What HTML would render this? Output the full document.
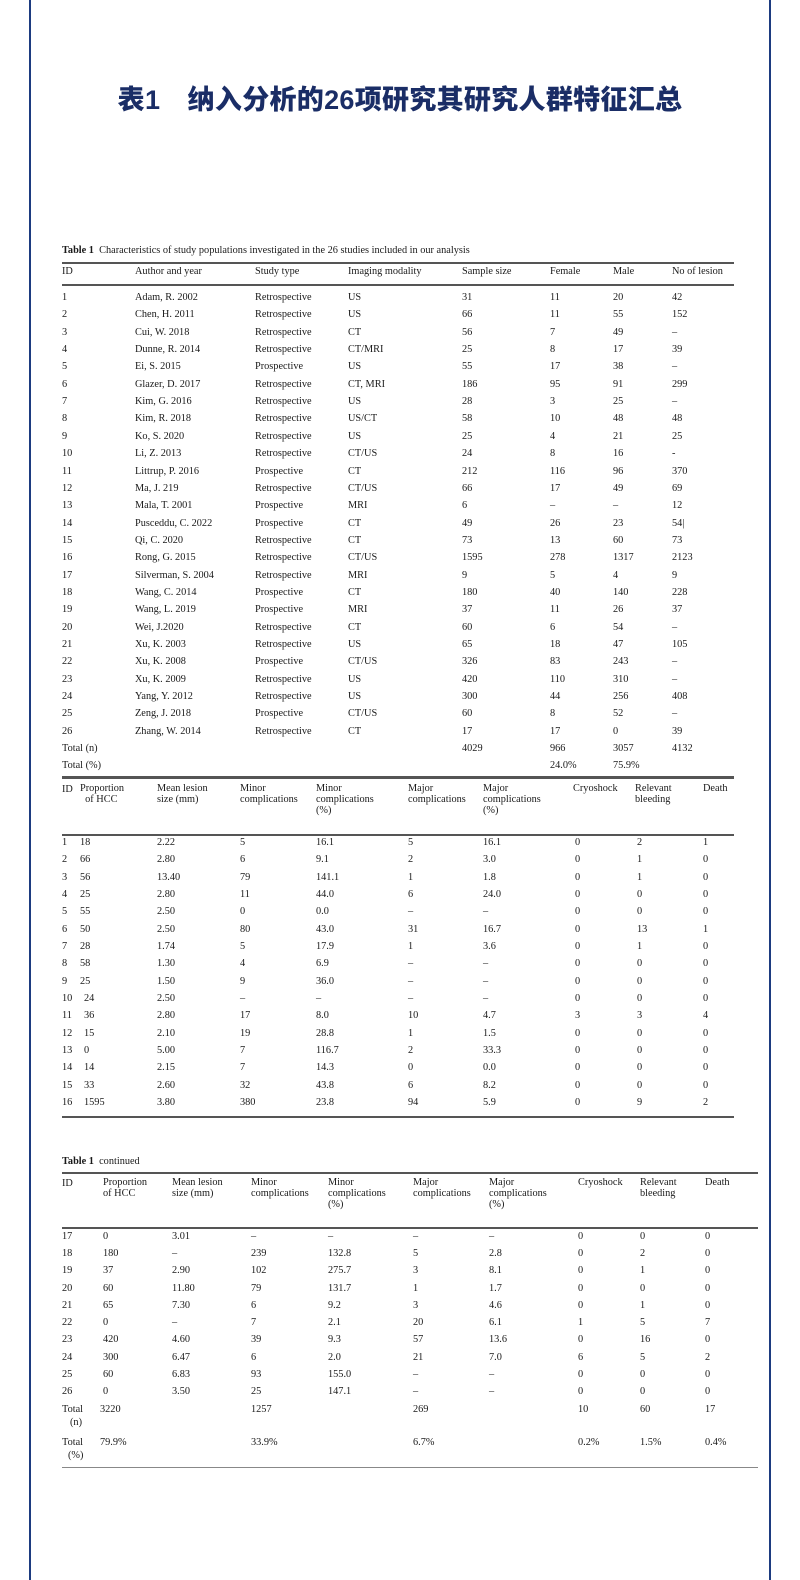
<!DOCTYPE html>
<html><head><meta charset="utf-8"><style>
*{margin:0;padding:0}
body{width:800px;height:1580px;background:#fff;position:relative;overflow:hidden;font-family:"Liberation Serif","Noto Serif CJK SC",serif;font-size:10.3px;color:#1a1a1a}
.bl{position:absolute;top:0;width:2px;height:1580px;background:#1d3b80}
.t{position:absolute;left:0;width:800px;top:78px;text-align:center;font-family:"Liberation Sans","Noto Sans CJK SC",sans-serif;font-weight:900;font-size:27px;color:#1a2d66;letter-spacing:0.3px}
.r{position:absolute;left:0;width:800px;height:14px;line-height:14px}
.r span{position:absolute;white-space:nowrap}
.h{position:absolute;background:#555}
.a1{left:62px}.a2{left:135px}.a3{left:255px}.a4{left:348px}.a5{left:462px}.a6{left:550px}.a7{left:613px}.a8{left:672px}
.b1{left:62px}.b2{left:80px}.b3{left:157px}.b4{left:240px}.b5{left:316px}.b6{left:408px}.b7{left:483px}.b8{left:575px}.b9{left:637px}.b10{left:703px}
.c1{left:62px}.c2{left:103px}.c3{left:172px}.c4{left:251px}.c5{left:328px}.c6{left:413px}.c7{left:489px}.c8{left:578px}.c9{left:640px}.c10{left:705px}
.hd{line-height:11px;position:absolute}
</style></head><body>
<div class="bl" style="left:29px"></div><div class="bl" style="left:769px"></div>
<div class="t">表1　纳入分析的26项研究其研究人群特征汇总</div>

<div class="r" style="top:244px"><span style="left:62px"><b>Table 1</b>&nbsp; Characteristics of study populations investigated in the 26 studies included in our analysis</span></div>
<div class="h" style="left:62px;width:672px;top:262px;height:1.5px"></div>
<div class="r" style="top:265px"><span class="a1">ID</span><span class="a2">Author and year</span><span class="a3">Study type</span><span class="a4">Imaging modality</span><span class="a5">Sample size</span><span class="a6">Female</span><span class="a7">Male</span><span class="a8">No of lesion</span></div>
<div class="h" style="left:62px;width:672px;top:284px;height:1.5px"></div>

<div class="r" style="top:291px"><span class="a1">1</span><span class="a2">Adam, R. 2002</span><span class="a3">Retrospective</span><span class="a4">US</span><span class="a5">31</span><span class="a6">11</span><span class="a7">20</span><span class="a8">42</span></div>
<div class="r" style="top:308px"><span class="a1">2</span><span class="a2">Chen, H. 2011</span><span class="a3">Retrospective</span><span class="a4">US</span><span class="a5">66</span><span class="a6">11</span><span class="a7">55</span><span class="a8">152</span></div>
<div class="r" style="top:326px"><span class="a1">3</span><span class="a2">Cui, W. 2018</span><span class="a3">Retrospective</span><span class="a4">CT</span><span class="a5">56</span><span class="a6">7</span><span class="a7">49</span><span class="a8">–</span></div>
<div class="r" style="top:343px"><span class="a1">4</span><span class="a2">Dunne, R. 2014</span><span class="a3">Retrospective</span><span class="a4">CT/MRI</span><span class="a5">25</span><span class="a6">8</span><span class="a7">17</span><span class="a8">39</span></div>
<div class="r" style="top:360px"><span class="a1">5</span><span class="a2">Ei, S. 2015</span><span class="a3">Prospective</span><span class="a4">US</span><span class="a5">55</span><span class="a6">17</span><span class="a7">38</span><span class="a8">–</span></div>
<div class="r" style="top:378px"><span class="a1">6</span><span class="a2">Glazer, D. 2017</span><span class="a3">Retrospective</span><span class="a4">CT, MRI</span><span class="a5">186</span><span class="a6">95</span><span class="a7">91</span><span class="a8">299</span></div>
<div class="r" style="top:395px"><span class="a1">7</span><span class="a2">Kim, G. 2016</span><span class="a3">Retrospective</span><span class="a4">US</span><span class="a5">28</span><span class="a6">3</span><span class="a7">25</span><span class="a8">–</span></div>
<div class="r" style="top:412px"><span class="a1">8</span><span class="a2">Kim, R. 2018</span><span class="a3">Retrospective</span><span class="a4">US/CT</span><span class="a5">58</span><span class="a6">10</span><span class="a7">48</span><span class="a8">48</span></div>
<div class="r" style="top:430px"><span class="a1">9</span><span class="a2">Ko, S. 2020</span><span class="a3">Retrospective</span><span class="a4">US</span><span class="a5">25</span><span class="a6">4</span><span class="a7">21</span><span class="a8">25</span></div>
<div class="r" style="top:447px"><span class="a1">10</span><span class="a2">Li, Z. 2013</span><span class="a3">Retrospective</span><span class="a4">CT/US</span><span class="a5">24</span><span class="a6">8</span><span class="a7">16</span><span class="a8">-</span></div>
<div class="r" style="top:465px"><span class="a1">11</span><span class="a2">Littrup, P. 2016</span><span class="a3">Prospective</span><span class="a4">CT</span><span class="a5">212</span><span class="a6">116</span><span class="a7">96</span><span class="a8">370</span></div>
<div class="r" style="top:482px"><span class="a1">12</span><span class="a2">Ma, J. 219</span><span class="a3">Retrospective</span><span class="a4">CT/US</span><span class="a5">66</span><span class="a6">17</span><span class="a7">49</span><span class="a8">69</span></div>
<div class="r" style="top:499px"><span class="a1">13</span><span class="a2">Mala, T. 2001</span><span class="a3">Prospective</span><span class="a4">MRI</span><span class="a5">6</span><span class="a6">–</span><span class="a7">–</span><span class="a8">12</span></div>
<div class="r" style="top:517px"><span class="a1">14</span><span class="a2">Pusceddu, C. 2022</span><span class="a3">Prospective</span><span class="a4">CT</span><span class="a5">49</span><span class="a6">26</span><span class="a7">23</span><span class="a8">54|</span></div>
<div class="r" style="top:534px"><span class="a1">15</span><span class="a2">Qi, C. 2020</span><span class="a3">Retrospective</span><span class="a4">CT</span><span class="a5">73</span><span class="a6">13</span><span class="a7">60</span><span class="a8">73</span></div>
<div class="r" style="top:551px"><span class="a1">16</span><span class="a2">Rong, G. 2015</span><span class="a3">Retrospective</span><span class="a4">CT/US</span><span class="a5">1595</span><span class="a6">278</span><span class="a7">1317</span><span class="a8">2123</span></div>
<div class="r" style="top:569px"><span class="a1">17</span><span class="a2">Silverman, S. 2004</span><span class="a3">Retrospective</span><span class="a4">MRI</span><span class="a5">9</span><span class="a6">5</span><span class="a7">4</span><span class="a8">9</span></div>
<div class="r" style="top:586px"><span class="a1">18</span><span class="a2">Wang, C. 2014</span><span class="a3">Prospective</span><span class="a4">CT</span><span class="a5">180</span><span class="a6">40</span><span class="a7">140</span><span class="a8">228</span></div>
<div class="r" style="top:603px"><span class="a1">19</span><span class="a2">Wang, L. 2019</span><span class="a3">Prospective</span><span class="a4">MRI</span><span class="a5">37</span><span class="a6">11</span><span class="a7">26</span><span class="a8">37</span></div>
<div class="r" style="top:621px"><span class="a1">20</span><span class="a2">Wei, J.2020</span><span class="a3">Retrospective</span><span class="a4">CT</span><span class="a5">60</span><span class="a6">6</span><span class="a7">54</span><span class="a8">–</span></div>
<div class="r" style="top:638px"><span class="a1">21</span><span class="a2">Xu, K. 2003</span><span class="a3">Retrospective</span><span class="a4">US</span><span class="a5">65</span><span class="a6">18</span><span class="a7">47</span><span class="a8">105</span></div>
<div class="r" style="top:655px"><span class="a1">22</span><span class="a2">Xu, K. 2008</span><span class="a3">Prospective</span><span class="a4">CT/US</span><span class="a5">326</span><span class="a6">83</span><span class="a7">243</span><span class="a8">–</span></div>
<div class="r" style="top:673px"><span class="a1">23</span><span class="a2">Xu, K. 2009</span><span class="a3">Retrospective</span><span class="a4">US</span><span class="a5">420</span><span class="a6">110</span><span class="a7">310</span><span class="a8">–</span></div>
<div class="r" style="top:690px"><span class="a1">24</span><span class="a2">Yang, Y. 2012</span><span class="a3">Retrospective</span><span class="a4">US</span><span class="a5">300</span><span class="a6">44</span><span class="a7">256</span><span class="a8">408</span></div>
<div class="r" style="top:707px"><span class="a1">25</span><span class="a2">Zeng, J. 2018</span><span class="a3">Prospective</span><span class="a4">CT/US</span><span class="a5">60</span><span class="a6">8</span><span class="a7">52</span><span class="a8">–</span></div>
<div class="r" style="top:725px"><span class="a1">26</span><span class="a2">Zhang, W. 2014</span><span class="a3">Retrospective</span><span class="a4">CT</span><span class="a5">17</span><span class="a6">17</span><span class="a7">0</span><span class="a8">39</span></div>
<div class="r" style="top:742px"><span class="a1">Total (n)</span><span class="a5">4029</span><span class="a6">966</span><span class="a7">3057</span><span class="a8">4132</span></div>
<div class="r" style="top:759px"><span class="a1">Total (%)</span><span class="a6">24.0%</span><span class="a7">75.9%</span></div>
<div class="h" style="left:62px;width:672px;top:776px;height:2.5px"></div>

<div class="r" style="top:783px"><span class="b1">ID</span></div>
<div class="hd" style="left:80px;top:783px">Proportion<br>&nbsp; of HCC</div>
<div class="hd" style="left:157px;top:783px">Mean lesion<br>size (mm)</div>
<div class="hd" style="left:240px;top:783px">Minor<br>complications</div>
<div class="hd" style="left:316px;top:783px">Minor<br>complications<br>(%)</div>
<div class="hd" style="left:408px;top:783px">Major<br>complications</div>
<div class="hd" style="left:483px;top:783px">Major<br>complications<br>(%)</div>
<div class="hd" style="left:573px;top:783px">Cryoshock</div>
<div class="hd" style="left:635px;top:783px">Relevant<br>bleeding</div>
<div class="hd" style="left:703px;top:783px">Death</div>
<div class="h" style="left:62px;width:672px;top:834px;height:1.5px"></div>

<div class="r" style="top:836px"><span class="b1">1</span><span class="b2">18</span><span class="b3">2.22</span><span class="b4">5</span><span class="b5">16.1</span><span class="b6">5</span><span class="b7">16.1</span><span class="b8">0</span><span class="b9">2</span><span class="b10">1</span></div>
<div class="r" style="top:853px"><span class="b1">2</span><span class="b2">66</span><span class="b3">2.80</span><span class="b4">6</span><span class="b5">9.1</span><span class="b6">2</span><span class="b7">3.0</span><span class="b8">0</span><span class="b9">1</span><span class="b10">0</span></div>
<div class="r" style="top:871px"><span class="b1">3</span><span class="b2">56</span><span class="b3">13.40</span><span class="b4">79</span><span class="b5">141.1</span><span class="b6">1</span><span class="b7">1.8</span><span class="b8">0</span><span class="b9">1</span><span class="b10">0</span></div>
<div class="r" style="top:888px"><span class="b1">4</span><span class="b2">25</span><span class="b3">2.80</span><span class="b4">11</span><span class="b5">44.0</span><span class="b6">6</span><span class="b7">24.0</span><span class="b8">0</span><span class="b9">0</span><span class="b10">0</span></div>
<div class="r" style="top:905px"><span class="b1">5</span><span class="b2">55</span><span class="b3">2.50</span><span class="b4">0</span><span class="b5">0.0</span><span class="b6">–</span><span class="b7">–</span><span class="b8">0</span><span class="b9">0</span><span class="b10">0</span></div>
<div class="r" style="top:923px"><span class="b1">6</span><span class="b2">50</span><span class="b3">2.50</span><span class="b4">80</span><span class="b5">43.0</span><span class="b6">31</span><span class="b7">16.7</span><span class="b8">0</span><span class="b9">13</span><span class="b10">1</span></div>
<div class="r" style="top:940px"><span class="b1">7</span><span class="b2">28</span><span class="b3">1.74</span><span class="b4">5</span><span class="b5">17.9</span><span class="b6">1</span><span class="b7">3.6</span><span class="b8">0</span><span class="b9">1</span><span class="b10">0</span></div>
<div class="r" style="top:957px"><span class="b1">8</span><span class="b2">58</span><span class="b3">1.30</span><span class="b4">4</span><span class="b5">6.9</span><span class="b6">–</span><span class="b7">–</span><span class="b8">0</span><span class="b9">0</span><span class="b10">0</span></div>
<div class="r" style="top:975px"><span class="b1">9</span><span class="b2">25</span><span class="b3">1.50</span><span class="b4">9</span><span class="b5">36.0</span><span class="b6">–</span><span class="b7">–</span><span class="b8">0</span><span class="b9">0</span><span class="b10">0</span></div>
<div class="r" style="top:992px"><span class="b1">10</span><span class="b2" style="left:84px">24</span><span class="b3">2.50</span><span class="b4">–</span><span class="b5">–</span><span class="b6">–</span><span class="b7">–</span><span class="b8">0</span><span class="b9">0</span><span class="b10">0</span></div>
<div class="r" style="top:1009px"><span class="b1">11</span><span class="b2" style="left:84px">36</span><span class="b3">2.80</span><span class="b4">17</span><span class="b5">8.0</span><span class="b6">10</span><span class="b7">4.7</span><span class="b8">3</span><span class="b9">3</span><span class="b10">4</span></div>
<div class="r" style="top:1027px"><span class="b1">12</span><span class="b2" style="left:84px">15</span><span class="b3">2.10</span><span class="b4">19</span><span class="b5">28.8</span><span class="b6">1</span><span class="b7">1.5</span><span class="b8">0</span><span class="b9">0</span><span class="b10">0</span></div>
<div class="r" style="top:1044px"><span class="b1">13</span><span class="b2" style="left:84px">0</span><span class="b3">5.00</span><span class="b4">7</span><span class="b5">116.7</span><span class="b6">2</span><span class="b7">33.3</span><span class="b8">0</span><span class="b9">0</span><span class="b10">0</span></div>
<div class="r" style="top:1061px"><span class="b1">14</span><span class="b2" style="left:84px">14</span><span class="b3">2.15</span><span class="b4">7</span><span class="b5">14.3</span><span class="b6">0</span><span class="b7">0.0</span><span class="b8">0</span><span class="b9">0</span><span class="b10">0</span></div>
<div class="r" style="top:1079px"><span class="b1">15</span><span class="b2" style="left:84px">33</span><span class="b3">2.60</span><span class="b4">32</span><span class="b5">43.8</span><span class="b6">6</span><span class="b7">8.2</span><span class="b8">0</span><span class="b9">0</span><span class="b10">0</span></div>
<div class="r" style="top:1096px"><span class="b1">16</span><span class="b2" style="left:84px">1595</span><span class="b3">3.80</span><span class="b4">380</span><span class="b5">23.8</span><span class="b6">94</span><span class="b7">5.9</span><span class="b8">0</span><span class="b9">9</span><span class="b10">2</span></div>
<div class="h" style="left:62px;width:672px;top:1116px;height:1.5px"></div>

<div class="r" style="top:1155px"><span style="left:62px"><b>Table 1</b>&nbsp; continued</span></div>
<div class="h" style="left:62px;width:696px;top:1172px;height:1.5px"></div>
<div class="r" style="top:1177px"><span class="c1">ID</span></div>
<div class="hd" style="left:103px;top:1177px">Proportion<br>of HCC</div>
<div class="hd" style="left:172px;top:1177px">Mean lesion<br>size (mm)</div>
<div class="hd" style="left:251px;top:1177px">Minor<br>complications</div>
<div class="hd" style="left:328px;top:1177px">Minor<br>complications<br>(%)</div>
<div class="hd" style="left:413px;top:1177px">Major<br>complications</div>
<div class="hd" style="left:489px;top:1177px">Major<br>complications<br>(%)</div>
<div class="hd" style="left:578px;top:1177px">Cryoshock</div>
<div class="hd" style="left:640px;top:1177px">Relevant<br>bleeding</div>
<div class="hd" style="left:705px;top:1177px">Death</div>
<div class="h" style="left:62px;width:696px;top:1227px;height:1.5px"></div>

<div class="r" style="top:1230px"><span class="c1">17</span><span class="c2">0</span><span class="c3">3.01</span><span class="c4">–</span><span class="c5">–</span><span class="c6">–</span><span class="c7">–</span><span class="c8">0</span><span class="c9">0</span><span class="c10">0</span></div>
<div class="r" style="top:1247px"><span class="c1">18</span><span class="c2">180</span><span class="c3">–</span><span class="c4">239</span><span class="c5">132.8</span><span class="c6">5</span><span class="c7">2.8</span><span class="c8">0</span><span class="c9">2</span><span class="c10">0</span></div>
<div class="r" style="top:1264px"><span class="c1">19</span><span class="c2">37</span><span class="c3">2.90</span><span class="c4">102</span><span class="c5">275.7</span><span class="c6">3</span><span class="c7">8.1</span><span class="c8">0</span><span class="c9">1</span><span class="c10">0</span></div>
<div class="r" style="top:1282px"><span class="c1">20</span><span class="c2">60</span><span class="c3">11.80</span><span class="c4">79</span><span class="c5">131.7</span><span class="c6">1</span><span class="c7">1.7</span><span class="c8">0</span><span class="c9">0</span><span class="c10">0</span></div>
<div class="r" style="top:1299px"><span class="c1">21</span><span class="c2">65</span><span class="c3">7.30</span><span class="c4">6</span><span class="c5">9.2</span><span class="c6">3</span><span class="c7">4.6</span><span class="c8">0</span><span class="c9">1</span><span class="c10">0</span></div>
<div class="r" style="top:1316px"><span class="c1">22</span><span class="c2">0</span><span class="c3">–</span><span class="c4">7</span><span class="c5">2.1</span><span class="c6">20</span><span class="c7">6.1</span><span class="c8">1</span><span class="c9">5</span><span class="c10">7</span></div>
<div class="r" style="top:1333px"><span class="c1">23</span><span class="c2">420</span><span class="c3">4.60</span><span class="c4">39</span><span class="c5">9.3</span><span class="c6">57</span><span class="c7">13.6</span><span class="c8">0</span><span class="c9">16</span><span class="c10">0</span></div>
<div class="r" style="top:1351px"><span class="c1">24</span><span class="c2">300</span><span class="c3">6.47</span><span class="c4">6</span><span class="c5">2.0</span><span class="c6">21</span><span class="c7">7.0</span><span class="c8">6</span><span class="c9">5</span><span class="c10">2</span></div>
<div class="r" style="top:1368px"><span class="c1">25</span><span class="c2">60</span><span class="c3">6.83</span><span class="c4">93</span><span class="c5">155.0</span><span class="c6">–</span><span class="c7">–</span><span class="c8">0</span><span class="c9">0</span><span class="c10">0</span></div>
<div class="r" style="top:1385px"><span class="c1">26</span><span class="c2">0</span><span class="c3">3.50</span><span class="c4">25</span><span class="c5">147.1</span><span class="c6">–</span><span class="c7">–</span><span class="c8">0</span><span class="c9">0</span><span class="c10">0</span></div>
<div class="r" style="top:1403px"><span class="c1">Total</span><span class="c2" style="left:100px">3220</span><span class="c4">1257</span><span class="c6">269</span><span class="c8">10</span><span class="c9">60</span><span class="c10">17</span></div>
<div class="r" style="top:1416px"><span style="left:70px">(n)</span></div>
<div class="r" style="top:1436px"><span class="c1">Total</span><span class="c2" style="left:100px">79.9%</span><span class="c4">33.9%</span><span class="c6">6.7%</span><span class="c8">0.2%</span><span class="c9">1.5%</span><span class="c10">0.4%</span></div>
<div class="r" style="top:1449px"><span style="left:68px">(%)</span></div>
<div class="h" style="left:62px;width:696px;top:1467px;height:1px;background:#888"></div>
</body></html>
